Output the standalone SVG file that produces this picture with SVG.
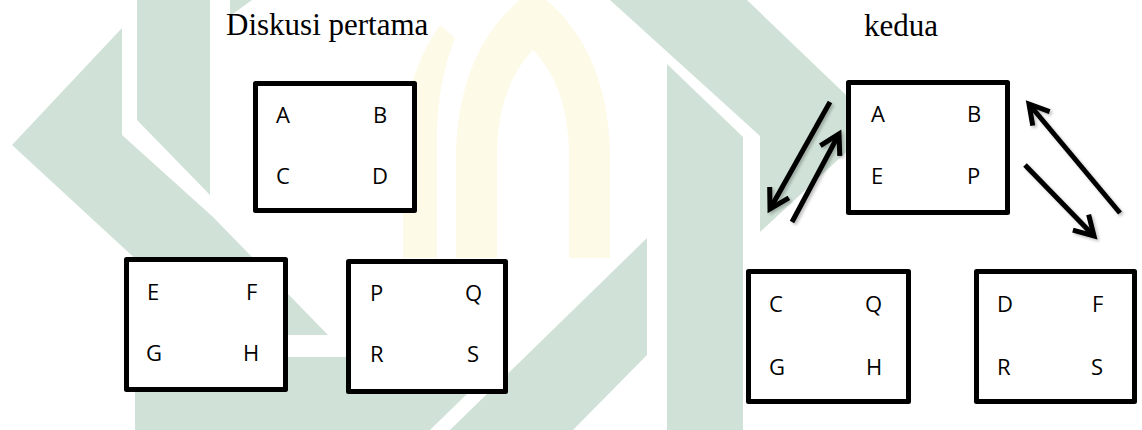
<svg xmlns="http://www.w3.org/2000/svg" width="1142" height="430" viewBox="0 0 1142 430">
  <style>
    .wm-green { fill: #d0e2d7; }
    .wm-gold { fill: #fefae8; }
    .title { font-family: "Liberation Serif", "Times New Roman", serif; font-size: 31px; fill: #000; }
    .box { fill: #fff; stroke: #000; stroke-width: 5; stroke-linejoin: round; }
    .lbl { font-family: "Open Sans", "Liberation Sans", sans-serif; font-size: 22px; fill: #000; }
    .arrow { fill: none; stroke: #000; stroke-width: 5; stroke-linecap: butt; }
  </style>
  <defs>
    <marker id="head" markerUnits="userSpaceOnUse" markerWidth="40" markerHeight="40" refX="0" refY="0" viewBox="-30 -20 40 40" orient="auto" overflow="visible">
      <path d="M-19,-11 L0,0 L-19,11" fill="none" stroke="#000" stroke-width="5" stroke-linejoin="miter" stroke-linecap="butt"/>
    </marker>
    <filter id="shade" x="-20%" y="-20%" width="140%" height="140%">
      <feDropShadow dx="2" dy="2" stdDeviation="1.5" flood-color="#000" flood-opacity="0.25"/>
    </filter>
  </defs>

  <rect width="1142" height="430" fill="#fff"/>

  <!-- faint emblem behind the diagram -->
  <g id="emblem">
    <path class="wm-gold" d="M456,258 L456,150 Q460,40 533,-10 Q606,40 610,150 L610,258 L569,258 L569,150 Q567,85 533,50 Q499,85 497,150 L497,258 Z"/>
    <path class="wm-gold" d="M403,258 L403,135 Q408,70 440,25 L455,38 Q437,85 437,135 L437,258 Z"/>
    <polygon class="wm-green" points="122,28 12,145 218,335 328,335 213,217 122,135"/>
    <polygon class="wm-green" points="137,0 210,0 210,195 137,120"/>
    <polygon class="wm-green" points="230,0 252,0 230,16"/>
    <polygon class="wm-green" points="135,357 505,357 430,430 135,430"/>
    <polygon class="wm-green" points="450,430 647,238 647,355 573,430"/>
    <polygon class="wm-green" points="667,64 743,137 743,430 667,430"/>
    <polygon class="wm-green" points="610,0 747,0 870,118 870,130 760,232 760,136"/>
  </g>

  <text class="title" x="226" y="35">Diskusi pertama</text>
  <text class="title" x="864" y="36">kedua</text>

  <!-- first discussion: three groups -->
  <g id="group-abcd">
    <rect class="box" x="255.5" y="83.5" width="159" height="127"/>
    <text class="lbl" x="276" y="123">A</text>
    <text class="lbl" x="373" y="123">B</text>
    <text class="lbl" x="276" y="184">C</text>
    <text class="lbl" x="372" y="184">D</text>
  </g>
  <g id="group-efgh">
    <rect class="box" x="126.5" y="259.5" width="159" height="130"/>
    <text class="lbl" x="147" y="300">E</text>
    <text class="lbl" x="246" y="300">F</text>
    <text class="lbl" x="146" y="361">G</text>
    <text class="lbl" x="243" y="361">H</text>
  </g>
  <g id="group-pqrs">
    <rect class="box" x="348.5" y="261.5" width="157" height="130"/>
    <text class="lbl" x="370" y="301">P</text>
    <text class="lbl" x="465" y="301">Q</text>
    <text class="lbl" x="370" y="362">R</text>
    <text class="lbl" x="467" y="362">S</text>
  </g>

  <!-- second discussion: regrouped -->
  <g id="group-abep">
    <rect class="box" x="848.5" y="82.5" width="159" height="130"/>
    <text class="lbl" x="871" y="122">A</text>
    <text class="lbl" x="967" y="122">B</text>
    <text class="lbl" x="871" y="184">E</text>
    <text class="lbl" x="967" y="184">P</text>
  </g>
  <g id="group-cqgh">
    <rect class="box" x="748.5" y="271.5" width="160" height="130"/>
    <text class="lbl" x="769" y="312">C</text>
    <text class="lbl" x="865" y="312">Q</text>
    <text class="lbl" x="769" y="375">G</text>
    <text class="lbl" x="866" y="375">H</text>
  </g>
  <g id="group-dfrs">
    <rect class="box" x="976.5" y="271.5" width="158" height="130"/>
    <text class="lbl" x="997" y="312">D</text>
    <text class="lbl" x="1092" y="312">F</text>
    <text class="lbl" x="997" y="375">R</text>
    <text class="lbl" x="1091" y="375">S</text>
  </g>

  <!-- exchanges between the groups -->
  <g id="connectors" filter="url(#shade)">
    <line class="arrow" x1="830" y1="102" x2="770" y2="209" marker-end="url(#head)"/>
    <line class="arrow" x1="792" y1="222" x2="839" y2="134" marker-end="url(#head)"/>
    <line class="arrow" x1="1120" y1="213" x2="1029" y2="104" marker-end="url(#head)"/>
    <line class="arrow" x1="1025" y1="165" x2="1094" y2="236" marker-end="url(#head)"/>
  </g>
</svg>
